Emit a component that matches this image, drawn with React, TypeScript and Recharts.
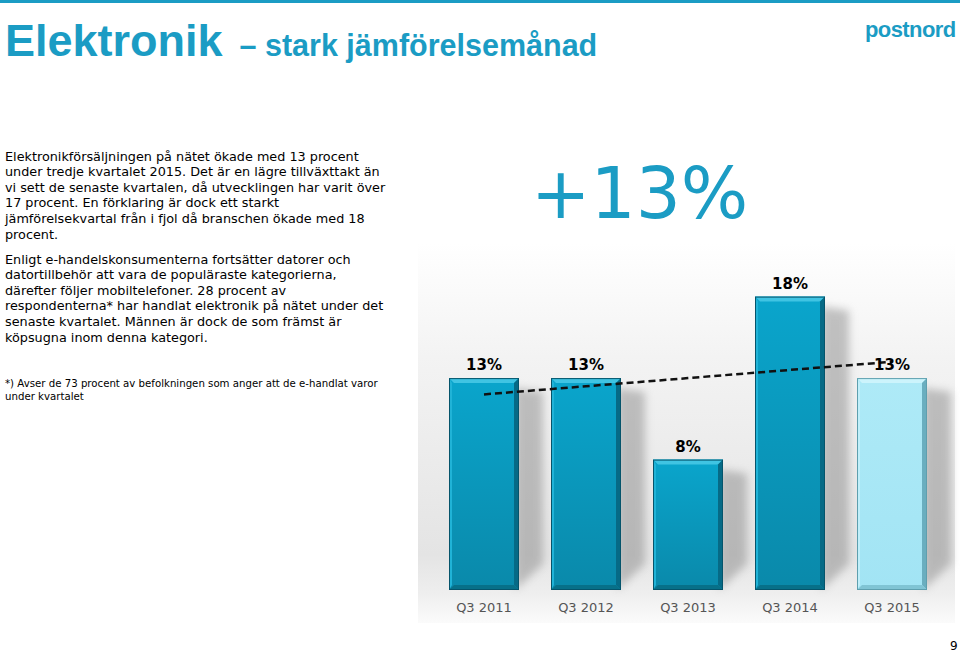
import React from 'react';
import { ComposedChart, Bar, Line, XAxis, YAxis, Cell, LabelList } from 'recharts';

const quarters = ['Q3 2011', 'Q3 2012', 'Q3 2013', 'Q3 2014', 'Q3 2015'];
const growth = [13, 13, 8, 18, 13];
const trend = [12, 12.5, 13, 13.5, 14];
const barColors = ['#0a9ec5', '#0a9ec5', '#0a9ec5', '#0a9ec5', '#a7e8f6'];

const para1 = [
  'Elektronikförsäljningen på nätet ökade med 13 procent',
  'under tredje kvartalet 2015. Det är en lägre tillväxttakt än',
  'vi sett de senaste kvartalen, då utvecklingen har varit över',
  '17 procent. En förklaring är dock ett starkt',
  'jämförelsekvartal från i fjol då branschen ökade med 18',
  'procent.',
];
const para2 = [
  'Enligt e-handelskonsumenterna fortsätter datorer och',
  'datortillbehör att vara de populäraste kategorierna,',
  'därefter följer mobiltelefoner. 28 procent av',
  'respondenterna* har handlat elektronik på nätet under det',
  'senaste kvartalet. Männen är dock de som främst är',
  'köpsugna inom denna kategori.',
];
const footnote = [
  '*) Avser de 73 procent av befolkningen som anger att de e-handlat varor',
  'under kvartalet',
];

const data = quarters.map((q, i) => ({ quarter: q, growth: growth[i], trend: trend[i] }));

const BLUE = '#1b9cc4';
const FONT = '"DejaVu Sans", Verdana, sans-serif';

const BevelBar = (props: any) => {
  const { x, y, width, height, fill, index } = props;
  if (!height || height <= 0) return null;
  const light = fill === '#a7e8f6';
  const pal = light
    ? { top: '#ccf4fc', b1: '#aeeaf7', b2: '#a2e4f4', left: '#c0effa', right: '#6aaebf', bottom: '#80c4d4', edge: '#5e9fae' }
    : { top: '#40c4e3', b1: '#0aa5cc', b2: '#0a89aa', left: '#20b3d7', right: '#066a86', bottom: '#077089', edge: '#05546b' };
  const b = 5;
  const x2 = x + width;
  const y2 = y + height;
  const gid = `barGrad${index}`;
  const fid = `shBlur${index}`;
  return (
    <g>
      <defs>
        <linearGradient id={gid} x1="0" y1="0" x2="0" y2="1">
          <stop offset="0%" stopColor={pal.b1} />
          <stop offset="100%" stopColor={pal.b2} />
        </linearGradient>
        <filter id={fid} x="-50%" y="-10%" width="200%" height="120%">
          <feGaussianBlur stdDeviation="4" />
        </filter>
      </defs>
      <polygon
        points={`${x2 - 4},${y + 10} ${x2 + 24},${y + 14} ${x2 + 24},${y2 - 26} ${x2 - 4},${y2}`}
        fill="#8a8a8a"
        opacity={0.5}
        filter={`url(#${fid})`}
      />
      <rect x={x} y={y} width={width} height={height} fill={`url(#${gid})`} />
      <polygon points={`${x},${y} ${x2},${y} ${x2 - b},${y + b} ${x + b},${y + b}`} fill={pal.top} />
      <polygon points={`${x},${y} ${x + b - 2},${y + b} ${x + b - 2},${y2 - b} ${x},${y2}`} fill={pal.left} />
      <polygon points={`${x2},${y} ${x2},${y2} ${x2 - b},${y2 - b} ${x2 - b},${y + b}`} fill={pal.right} />
      <polygon points={`${x},${y2} ${x2},${y2} ${x2 - b},${y2 - b} ${x + b},${y2 - b}`} fill={pal.bottom} />
      <rect x={x + 0.5} y={y + 0.5} width={width - 1} height={height - 1} fill="none" stroke={pal.edge} strokeWidth={1} />
    </g>
  );
};

const lineStyle = (top: number, lh: number, fs: number): React.CSSProperties => ({
  position: 'absolute',
  left: 5,
  top,
  fontFamily: FONT,
  fontSize: fs,
  lineHeight: `${lh}px`,
  color: '#000',
  whiteSpace: 'pre',
});

export default function App() {
  return (
    <div style={{ position: 'absolute', left: 0, top: 0, width: 960, height: 653, background: '#fff', overflow: 'hidden' }}>
      <div style={{ position: 'absolute', left: 0, top: 0, width: 960, height: 3, background: BLUE }} />
      <div style={{ position: 'absolute', left: 5, top: 15, fontFamily: '"Liberation Sans", Arial, sans-serif', fontWeight: 'bold', color: BLUE, whiteSpace: 'pre', lineHeight: '52px' }}>
        <span style={{ fontSize: 45 }}>Elektronik</span>
        <span style={{ fontSize: 30.5 }}>{'  – stark jämförelsemånad'}</span>
      </div>
      <div style={{ position: 'absolute', left: 865, top: 17, fontFamily: '"Liberation Sans", Arial, sans-serif', fontWeight: 'bold', fontSize: 22, color: BLUE, letterSpacing: -0.6, lineHeight: '26px' }}>
        postnord
      </div>

      <div style={lineStyle(148.6, 15.6, 12.8)}>
        {para1.map((t, i) => (<div key={i}>{t}</div>))}
      </div>
      <div style={lineStyle(251.6, 15.6, 12.8)}>
        {para2.map((t, i) => (<div key={i}>{t}</div>))}
      </div>
      <div style={lineStyle(377, 13, 10.2)}>
        {footnote.map((t, i) => (<div key={i}>{t}</div>))}
      </div>

      <div style={{ position: 'absolute', left: 531, top: 152, fontFamily: FONT, fontSize: 71, color: BLUE, lineHeight: '84px', whiteSpace: 'pre' }}>
        +13%
      </div>

      <div
        style={{
          position: 'absolute',
          left: 418,
          top: 243,
          width: 537,
          height: 380,
          background: 'linear-gradient(to bottom, #ffffff 0%, #f3f3f3 30%, #e4e4e4 82%, #eeeeee 92%, #fbfbfb 100%)',
        }}
      />

      <div style={{ position: 'absolute', left: 420, top: 240 }}>
        <ComposedChart width={540} height={400} data={data} margin={{ top: 24, right: 17, bottom: 20, left: 13 }}>
          <XAxis
            dataKey="quarter"
            axisLine={false}
            tickLine={false}
            height={30}
            tickMargin={7}
            tick={{ fill: '#555555', fontSize: 13, fontFamily: FONT }}
          />
          <YAxis hide domain={[0, 20]} />
          <Bar dataKey="growth" barSize={70} shape={BevelBar} isAnimationActive={false}>
            {barColors.map((c, i) => (
              <Cell key={i} fill={c} />
            ))}
            <LabelList
              dataKey="growth"
              position="top"
              offset={8}
              formatter={(v: any) => `${v}%`}
              fill="#000"
              fontSize={15}
              fontWeight="bold"
              fontFamily={FONT}
            />
          </Bar>
          <Line
            dataKey="trend"
            type="linear"
            stroke="#111"
            strokeWidth={2.5}
            strokeDasharray="7 4"
            dot={false}
            activeDot={false}
            isAnimationActive={false}
          />
        </ComposedChart>
      </div>

      <div style={{ position: 'absolute', left: 950, top: 639, fontFamily: FONT, fontSize: 12, color: '#000', lineHeight: '14px' }}>9</div>
    </div>
  );
}
